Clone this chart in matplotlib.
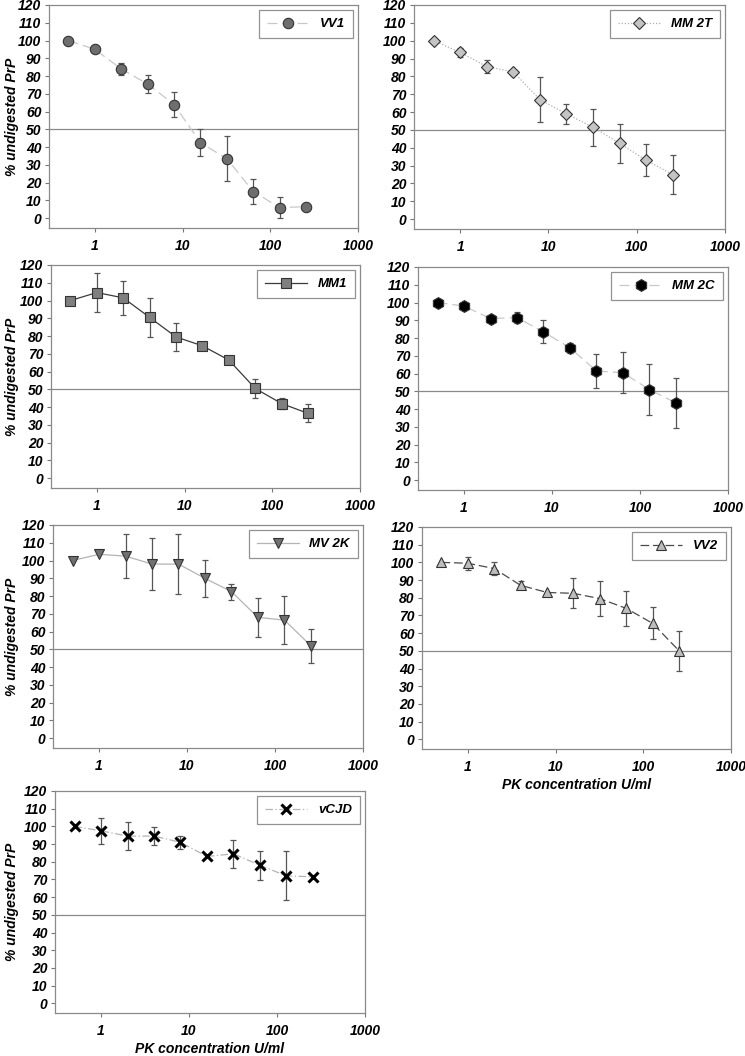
import numpy as np
import matplotlib
matplotlib.use("Agg")
import matplotlib.pyplot as plt
from matplotlib.ticker import FixedLocator, NullLocator

plt.rcParams['font.family'] = ['Liberation Sans', 'DejaVu Sans']

# PK concentration (U/ml)
pk = [0.5, 1, 2, 4, 8, 16, 32, 64, 128, 256]

vv1 = [100, 95, 84, 75.5, 64, 42.5, 33.5, 15, 6, 6.5]
vv1_err = [0, 0, 3.5, 5, 7, 7.5, 12.5, 7, 5.7, 0]

mm2t = [100, 93.5, 85.5, 82.5, 67, 59, 51.5, 42.5, 33, 25]
mm2t_err = [0, 2.5, 3.7, 0, 12.5, 5.5, 10.5, 11, 9, 11]

mm1 = [100, 104.5, 101.5, 90.5, 79.5, 74.5, 66.5, 50.5, 42, 36.5]
mm1_err = [0, 11, 9.5, 11, 8, 2, 0, 5.5, 3, 5]

mm2c = [100, 98, 91, 91.5, 83.5, 74.5, 61.5, 60.5, 51, 43.5]
mm2c_err = [0, 0, 0, 3, 6.5, 3, 9.5, 11.5, 14.5, 14]

mv2k = [100, 103.5, 102.5, 98, 98, 90, 82.5, 68, 66.5, 52]
mv2k_err = [0, 0, 12.5, 14.5, 17, 10.5, 4.5, 11, 13.3, 9.5]

vv2 = [100, 99.5, 96.5, 87, 83, 82.5, 79.5, 74, 65.5, 50]
vv2_err = [0, 3.7, 3.7, 2.3, 0, 8.5, 10, 10, 9, 11.3]

vcjd = [100, 97.5, 94.5, 94.5, 91, 83, 84.5, 78, 72, 71.5]
vcjd_err = [0, 7.5, 7.8, 5.3, 3.8, 0, 7.8, 8.3, 13.8, 0]

W, H = 745, 1056
fig = plt.figure(figsize=(W / 100, H / 100), dpi=100)


def px_axes(left, right, top, bottom):
    return fig.add_axes([left / W, 1 - bottom / H, (right - left) / W, (bottom - top) / H])


# (name, y, err, marker, face, size, line color, linestyle, box px, ylabel, xlabel)
panels = [
    ("VV1", vv1, vv1_err, "o", "#6e6e6e", 7.5, "#c8c8c8", (0, (8, 4)), (49, 358, 5, 228), True, False),
    ("MM 2T", mm2t, mm2t_err, "D", "#c4c4c4", 6.5, "#b0b0b0", (0, (1, 1.5)), (414, 725, 5, 229), False, False),
    ("MM1", mm1, mm1_err, "s", "#7f7f7f", 7, "#3a3a3a", "-", (51, 360, 265, 488), True, False),
    ("MM 2C", mm2c, mm2c_err, "h", "#000000", 8.5, "#c8c8c8", (0, (8, 4)), (418, 728, 267, 490), False, False),
    ("MV 2K", mv2k, mv2k_err, "v", "#707070", 7.5, "#b4b4b4", "-", (53, 363, 525, 748), True, False),
    ("VV2", vv2, vv2_err, "^", "#bdbdbd", 7.5, "#4a4a4a", (0, (7, 3)), (422, 731, 527, 749), False, True),
    ("vCJD", vcjd, vcjd_err, "x", "#000000", 7.5, "#b4b4b4", (0, (6, 2, 1, 2)), (55, 365, 791, 1013), True, True),
]

tick_font = dict(fontsize=10, fontweight="bold", fontstyle="italic")
label_font = dict(fontsize=10, fontweight="bold", fontstyle="italic")

for name, y, err, mk, face, ms, lc, ls, box, ylab, xlab in panels:
    ax = px_axes(*box)
    ax.set_xscale("log")
    ax.set_xlim(0.3, 1000)
    ax.set_ylim(-5.5, 120)
    ax.axhline(50, color="#8a8a8a", lw=0.9, zorder=1)

    e = np.array(err, dtype=float)
    ax.errorbar(pk, y, yerr=np.where(e > 0, e, np.nan), fmt="none", ecolor="#555555",
                elinewidth=0.9, capsize=2.5, capthick=0.9, zorder=2)
    if mk == "x":
        mkw = dict(markeredgecolor="#000000", markeredgewidth=2.2)
    else:
        mkw = dict(markerfacecolor=face, markeredgecolor="#333333", markeredgewidth=0.8)
    ax.plot(pk, y, color=lc, linestyle=ls, lw=0.9, marker=mk, markersize=ms,
            label=name, zorder=3, **mkw)

    ax.xaxis.set_major_locator(FixedLocator([1, 10, 100, 1000]))
    ax.xaxis.set_minor_locator(NullLocator())
    ax.set_xticklabels(["1", "10", "100", "1000"], **tick_font)
    ax.set_yticks(range(0, 121, 10))
    ax.set_yticklabels([str(v) for v in range(0, 121, 10)], **tick_font)
    ax.tick_params(axis="both", length=3, width=0.8, color="#777777")
    ax.tick_params(axis="x", pad=5)
    ax.tick_params(axis="y", pad=2.5)
    for sp in ax.spines.values():
        sp.set_color("#8a8a8a")
        sp.set_linewidth(0.9)

    leg = ax.legend(loc="upper right", prop=dict(family="Liberation Sans", size=9.5,
                    weight="bold", style="italic"), frameon=True, fancybox=False,
                    handlelength=3.2, borderpad=0.6, borderaxespad=0.4)
    leg.get_frame().set_edgecolor("#777777")
    leg.get_frame().set_linewidth(0.9)

    left, right, top, bottom = box
    if ylab:
        ax.set_ylabel("% undigested PrP", va="center", **label_font)
        ax.yaxis.set_label_coords((12 - left) / (right - left), 0.5)
    if xlab:
        ax.set_xlabel("PK concentration U/ml", va="center", **label_font)
        ax.xaxis.set_label_coords(0.5, -36 / (bottom - top))

fig.savefig("out.png", dpi=100)
